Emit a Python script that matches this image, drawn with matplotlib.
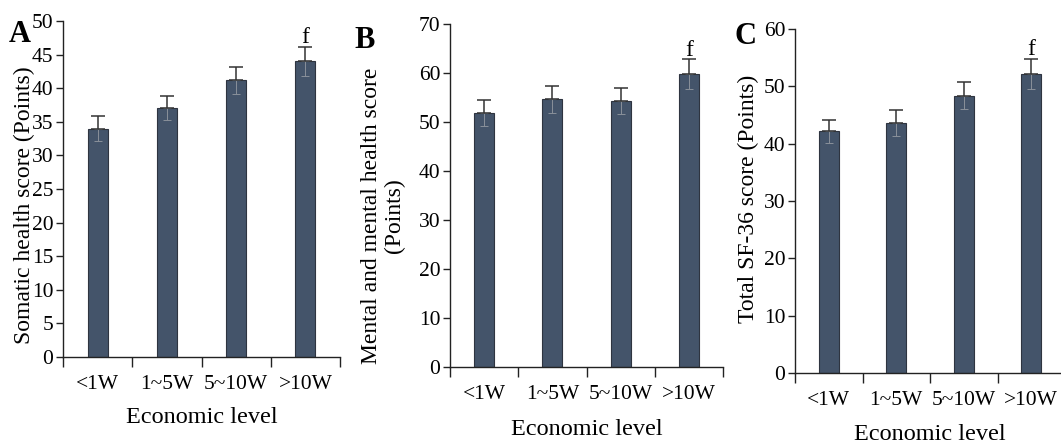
import matplotlib
matplotlib.use("Agg")
import matplotlib.pyplot as plt
import numpy as np

plt.rcParams['font.family'] = ['Liberation Serif', 'DejaVu Serif']

categories = ["<1W", "1~5W", "5~10W", ">10W"]

somatic_mean = [34.0, 37.0, 41.2, 44.0]
somatic_err = [1.8, 1.8, 2.0, 2.2]

mental_mean = [51.8, 54.6, 54.3, 59.8]
mental_err = [2.6, 2.7, 2.7, 3.0]

total_mean = [42.2, 43.6, 48.4, 52.2]
total_err = [2.0, 2.3, 2.3, 2.6]

sig_label = "f"

W, H = 1061, 443
fig = plt.figure(figsize=(W / 100, H / 100), dpi=100)

BAR = '#44546A'
EDGE = '#2E3440'
ERR = '#333333'
ERR_LOW = '#8A909A'


def px_axes(left, right, top, bottom):
    return fig.add_axes([left / W, 1 - bottom / H, (right - left) / W, (bottom - top) / H])


def draw(ax, means, errs, ymax, ystep, xlabel_pad, tick_pad):
    x = np.arange(len(categories))
    means = np.array(means)
    errs = np.array(errs)
    ax.bar(x, means, width=0.29, color=BAR, edgecolor=EDGE, linewidth=0.8, zorder=2)
    # faint lower part
    ax.errorbar(x, means, yerr=[errs, np.zeros_like(errs)], fmt='none',
                ecolor=ERR_LOW, elinewidth=0.7, capsize=3, capthick=0.7, zorder=3)
    ax.errorbar(x, means, yerr=[np.zeros_like(errs), errs], fmt='none',
                ecolor=ERR, elinewidth=1.1, capsize=5, capthick=1.1, zorder=3)
    ax.annotate(sig_label, (x[-1], means[-1] + errs[-1]), xytext=(0, -1),
                textcoords='offset points', ha='center', va='bottom', fontsize=17)
    ax.set_xlim(-0.5, len(categories) - 0.5)
    ax.set_ylim(0, ymax)
    ax.set_yticks(np.arange(0, ymax + 0.1, ystep))
    ax.set_xticks(np.arange(-0.5, len(categories)), minor=False)
    ax.set_xticklabels([])
    ax.set_xticks(x, minor=True)
    ax.set_xticklabels(categories, minor=True)
    ax.tick_params(axis='x', which='major', length=7, width=1, direction='out', color='#222222')
    ax.tick_params(axis='x', which='minor', length=0, pad=tick_pad, labelsize=15.5)
    ax.tick_params(axis='y', length=5, width=1, direction='out', labelsize=15.5, pad=2, color='#222222')
    for s in ['top', 'right']:
        ax.spines[s].set_visible(False)
    for s in ['left', 'bottom']:
        ax.spines[s].set_color('#222222')
        ax.spines[s].set_linewidth(1.0)
    ax.set_xlabel("Economic level", fontsize=17.5, labelpad=xlabel_pad)


axA = px_axes(63, 340, 21, 357)
draw(axA, somatic_mean, somatic_err, 50, 5, 9, 13)

axB = px_axes(450, 723, 24, 367)
draw(axB, mental_mean, mental_err, 70, 10, 11, 13)

axC = px_axes(795, 1065, 29, 373)
draw(axC, total_mean, total_err, 60, 10, 10, 13)
axC.spines['bottom'].set_bounds(-0.5, 3.5)

# y labels
def ftext(xp, yp, s, **kw):
    fig.text(xp / W, 1 - yp / H, s, **kw)

ftext(24, 205, "Somatic health score (Points)", rotation=90, ha='center', va='center', fontsize=17)
ftext(383, 216, "Mental and mental health score\n(Points)", rotation=90, ha='center', va='center',
      fontsize=17, linespacing=1.15)
ftext(748, 199, "Total SF-36 score (Points)", rotation=90, ha='center', va='center', fontsize=17)

# panel letters
ftext(20, 34, "A", fontsize=22, fontweight='bold', ha='center', va='center')
ftext(365, 40, "B", fontsize=22, fontweight='bold', ha='center', va='center')
ftext(746, 37, "C", fontsize=22, fontweight='bold', ha='center', va='center')

fig.savefig("out.png", dpi=100)
